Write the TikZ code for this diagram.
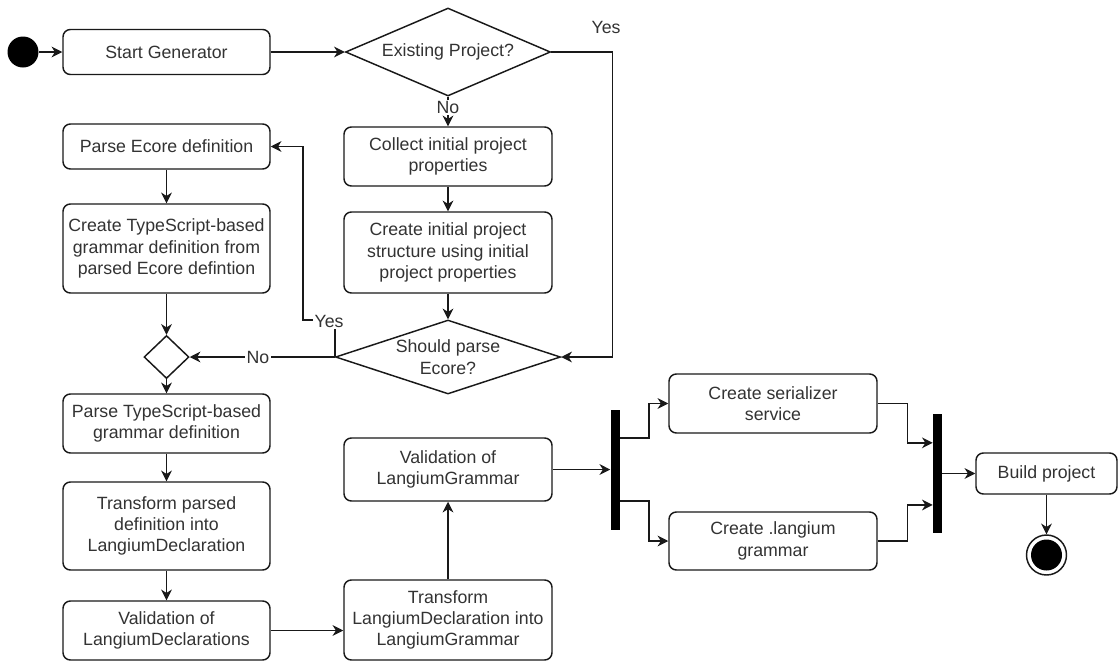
\documentclass[tikz,border=0pt]{standalone}
\usepackage{fontspec}
\setmainfont{Liberation Sans}
\usetikzlibrary{arrows.meta,shapes.geometric,calc}
\begin{document}
\begin{tikzpicture}[x=0.75pt,y=-0.75pt,
  font=\fontsize{13.3}{16}\selectfont,
  ink/.style={draw=black!90, line width=1.1pt},
  act/.style={ink, rounded corners=5.5pt, align=center, inner sep=0pt,
    fill=white, text=black!80},
  col/.style={act, minimum width=207*0.75pt},
  mid/.style={act, minimum width=208*0.75pt},
  decision/.style={ink, diamond, inner sep=0pt, fill=white, text=black!80},
  bar/.style={fill=black, inner sep=0pt, minimum width=9*0.75pt},
  arr/.style={ink, -{Stealth[length=8pt,width=8pt,inset=2.5pt]}},
  lbl/.style={fill=white, inner sep=1pt, text=black!80},
]
\useasboundingbox (0,0) rectangle (1118,662);

% start, end
\node[circle, fill=black, inner sep=0pt, minimum size=31*0.75pt] (start) at (23,52) {};
\node[circle, ink, fill=white, inner sep=0pt, minimum size=40*0.75pt,
  path picture={\fill[black] (path picture bounding box.center) circle (15.5*0.75pt);}]
  (endc) at (1046.5,555) {};

% top row
\node[act, minimum width=207*0.75pt, minimum height=45*0.75pt] (sg) at (166.5,52) {Start Generator};
\node[decision, minimum width=205*0.75pt, minimum height=88*0.75pt,
  label={[text=black!80]center:Existing Project?}] (d1) at (448,52) {};

% middle column
\node[mid, minimum height=59*0.75pt] (collect) at (448,156.5) {Collect initial project\\properties};
\node[mid, minimum height=81*0.75pt] (cips) at (448,252.5) {Create initial project\\structure using initial\\project properties};
\node[decision, minimum width=225*0.75pt, minimum height=74*0.75pt,
  label={[text=black!80, align=center]center:Should parse\\Ecore?}] (d2) at (448,357) {};
\node[mid, minimum height=63*0.75pt] (vlg) at (448,469.5) {Validation of\\LangiumGrammar};
\node[mid, minimum height=80*0.75pt] (tlg) at (448,620) {Transform\\LangiumDeclaration into\\LangiumGrammar};

% left column
\node[col, minimum height=45*0.75pt] (pe) at (166.5,146.5) {Parse Ecore definition};
\node[col, minimum height=89*0.75pt] (cts) at (166.5,248.5) {Create TypeScript-based\\grammar definition from\\parsed Ecore defintion};
\node[decision, minimum width=45*0.75pt, minimum height=43*0.75pt] (merge) at (166.5,357) {};
\node[col, minimum height=59*0.75pt] (pts) at (166.5,423.5) {Parse TypeScript-based\\grammar definition};
\node[col, minimum height=88*0.75pt] (tpd) at (166.5,526) {Transform parsed\\definition into\\LangiumDeclaration};
\node[col, minimum height=59*0.75pt] (vld) at (166.5,630.5) {Validation of\\LangiumDeclarations};

% fork / join
\node[bar, minimum height=120*0.75pt] (bar1) at (615,469.5) {};
\node[mid, minimum height=59*0.75pt] (ser) at (773,403.5) {Create serializer\\service};
\node[mid, minimum height=58*0.75pt] (lang) at (773,541) {Create .langium\\grammar};
\node[bar, minimum height=119*0.75pt] (bar2) at (937.5,473.5) {};
\node[act, minimum width=141*0.75pt, minimum height=41*0.75pt] (build) at (1046.5,473.5) {Build project};

% connectors
\draw[arr] (start) -- (sg.west);
\draw[arr] (sg.east) -- (d1.west);
\draw[arr] (d1.south) -- node[lbl, pos=0.35] {No} (collect.north);
\draw[arr] (d1.east) -- ++(61,0) |- (d2.east);
\node[text=black!80] (yes1) at (606,27) {Yes};
\draw[arr] (collect.south) -- (cips.north);
\draw[arr] (cips.south) -- (d2.north);
\draw[arr] (d2.west) -- ++(0,-37) -- ++(-32,0) |- (pe.east);
\node[lbl] (yes2) at (329,321) {Yes};
\draw[arr] (d2.west) -- node[lbl, pos=0.53] {No} (merge.east);
\draw[arr] (pe.south) -- (cts.north);
\draw[arr] (cts.south) -- (merge.north);
\draw[arr] (merge.south) -- (pts.north);
\draw[arr] (pts.south) -- (tpd.north);
\draw[arr] (tpd.south) -- (vld.north);
\draw[arr] (vld.east) -- (vld.east -| tlg.west);
\draw[arr] (tlg.north) -- (vlg.south);
\draw[arr] (vlg.east) -- (bar1.west);
\draw[arr] ([yshift=23.6pt]bar1.east) -- ++(29,0) |- (ser.west);
\draw[arr] ([yshift=-23.6pt]bar1.east) -- ++(29,0) |- (lang.west);
\draw[arr] (ser.east) -- ++(30,0) |- ([yshift=23pt]bar2.west);
\draw[arr] (lang.east) -- ++(30,0) |- ([yshift=-23.6pt]bar2.west);
\draw[arr] (bar2.east) -- (build.west);
\draw[arr] (build.south) -- (endc.north);
\end{tikzpicture}
\end{document}
